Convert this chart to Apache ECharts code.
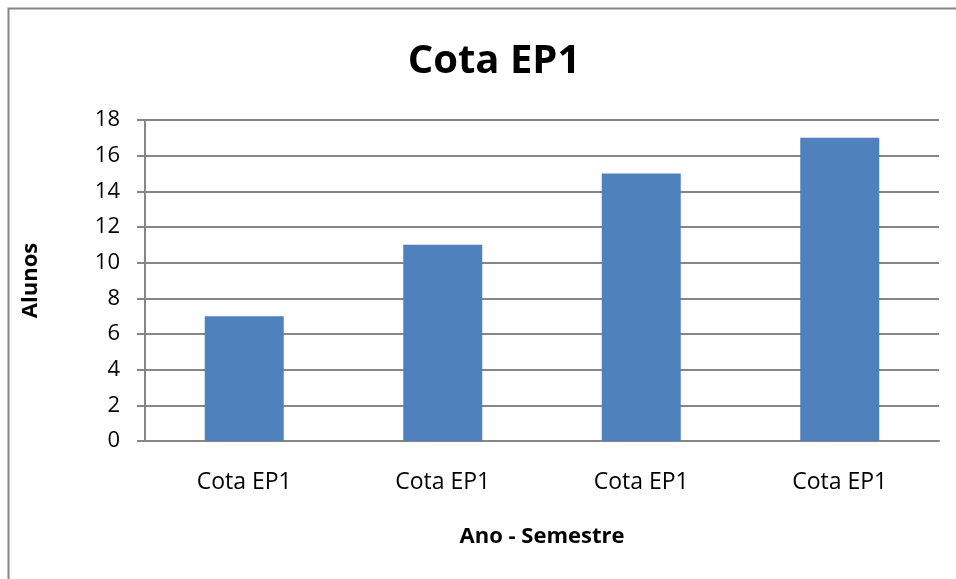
<!DOCTYPE html>
<html>
<head>
<meta charset="utf-8">
<script src="https://cdn.jsdelivr.net/npm/echarts@6/dist/echarts.min.js"></script>
<style>
  html, body { margin: 0; padding: 0; background: #fff; }
  #chart { width: 956px; height: 579px; }
</style>
</head>
<body>
<div id="chart"></div>
<script>
// dados do gráfico
const categories = ['Cota EP1', 'Cota EP1', 'Cota EP1', 'Cota EP1']
const alunos = [7, 11, 15, 17]
const yTicks = { min: 0, max: 18, interval: 2 }

const font = '"Open Sans", "Liberation Sans", sans-serif'
const chart = echarts.init(document.getElementById('chart'))

chart.setOption({
  animation: false,
  title: {
    text: 'Cota EP1',
    left: 489,
    top: 37,
    textAlign: 'center',
    textStyle: { fontSize: 40, fontWeight: 'bold', color: '#000', fontFamily: font }
  },
  graphic: [
    // moldura do gráfico (só topo e esquerda aparecem)
    {
      type: 'polyline',
      shape: { points: [[8.5, 579], [8.5, 8.5], [956, 8.5]] },
      style: { stroke: '#868686', lineWidth: 2, fill: null },
      silent: true
    }
  ],
  grid: { left: 145, right: 17, top: 120, bottom: 138 },
  xAxis: {
    type: 'category',
    data: categories,
    name: 'Ano - Semestre',
    nameLocation: 'middle',
    nameGap: 85,
    nameTextStyle: { fontSize: 22, fontWeight: 'bold', color: '#000', fontFamily: font },
    axisLine: { lineStyle: { color: '#868686', width: 2 } },
    axisTick: { show: false },
    axisLabel: { fontSize: 23, color: '#000', margin: 30, fontFamily: font }
  },
  yAxis: {
    type: 'value',
    min: yTicks.min,
    max: yTicks.max,
    interval: yTicks.interval,
    name: 'Alunos',
    nameLocation: 'middle',
    nameGap: 103,
    nameTextStyle: { fontSize: 22, fontWeight: 'bold', color: '#000', fontFamily: font },
    axisLine: { show: true, lineStyle: { color: '#868686', width: 2 } },
    axisTick: { show: true, length: 8, lineStyle: { color: '#868686', width: 2 } },
    axisLabel: { fontSize: 22, color: '#000', margin: 25, fontFamily: font },
    splitLine: { lineStyle: { color: '#868686', width: 2 } }
  },
  series: [{
    type: 'bar',
    data: alunos,
    barWidth: 79,
    itemStyle: { color: '#4F81BD' }
  }]
})
</script>
</body>
</html>
